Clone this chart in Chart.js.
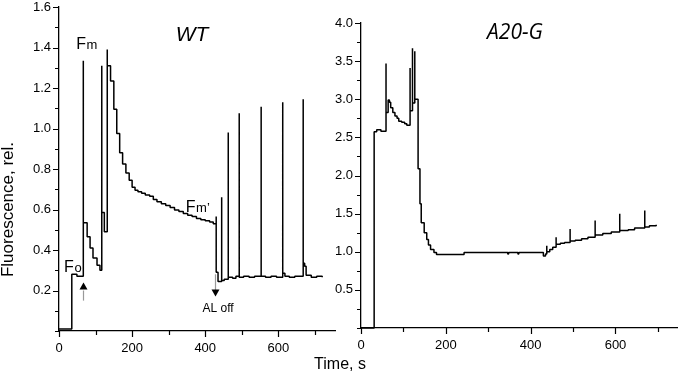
<!DOCTYPE html>
<html>
<head>
<meta charset="utf-8">
<script src="https://cdn.jsdelivr.net/npm/chart.js@4.4.1/dist/chart.umd.min.js"></script>
<style>
  body { margin: 0; background: #fff; width: 680px; height: 385px; overflow: hidden; position: relative; font-family: "Liberation Sans", Arial, sans-serif; }
  #wrapWT { position: absolute; left: 0; top: 0; width: 340px; height: 385px; }
  #wrapA20 { position: absolute; left: 325px; top: 0; width: 355px; height: 385px; }
  #xTitle { position: absolute; left: 0; top: 355px; width: 680px; text-align: center; font-size: 16px; color: #000; }
</style>
</head>
<body>
<div id="wrapWT"><canvas id="chartWT" width="340" height="385"></canvas></div>
<div id="wrapA20"><canvas id="chartA20" width="355" height="385"></canvas></div>
<div id="xTitle">Time, s</div>
<script>
// ---- data (time in s, fluorescence rel.) ----
const timeWT = [0, 35, 49, 66.5, 66.5, 77, 85, 93, 104, 112, 117, 117, 124, 132, 132, 141, 150, 158, 166, 174, 183, 192, 200,
  208, 216, 226, 236, 248, 258, 268, 280, 292, 304, 316, 328, 340, 352, 364, 376, 388, 400, 412, 422,
  430, 430, 435, 445, 445, 452, 463, 463, 475, 484, 493, 493, 505, 520, 535, 553, 553, 565, 580, 595, 612, 612, 618, 630, 645,
  668, 668, 672, 676, 690, 705, 720];
const fluorWT = [0.01, 0.28, 0.27, 1.335, 0.535, 0.465, 0.41, 0.36, 0.325, 0.30, 1.31, 0.585, 0.49, 1.39, 1.31, 1.235, 1.095, 0.975, 0.88, 0.825, 0.78, 0.745, 0.71,
  0.695, 0.688, 0.68, 0.672, 0.665, 0.65, 0.638, 0.628, 0.62, 0.61, 0.598, 0.59, 0.58, 0.572, 0.565, 0.556, 0.55, 0.545, 0.538, 0.53,
  0.565, 0.29, 0.245, 0.66, 0.25, 0.255, 0.98, 0.265, 0.26, 0.27, 1.075, 0.265, 0.27, 0.265, 0.27, 1.107, 0.27, 0.265, 0.27, 0.265, 1.13, 0.285, 0.27, 0.265, 0.27,
  1.144, 0.335, 0.32, 0.275, 0.265, 0.27, 0.265];

const timeA20 = [0, 31, 37, 47, 59, 59, 64, 67, 70, 75, 80, 85, 89, 96, 103, 108, 115.7, 115.7, 121.4, 121.4, 126.8, 126.8, 134.6, 139,
  142, 149, 155, 159, 164, 172, 178, 243, 346, 348, 370, 372, 430, 435, 438, 438, 445, 452, 460, 460, 470, 480,
  493, 493, 505, 520, 535, 552, 552, 570, 590, 610, 610, 630, 645, 669, 669, 680, 696];
const fluorA20 = [0, 2.575, 2.6, 2.58, 3.47, 2.825, 2.99, 2.96, 2.89, 2.825, 2.78, 2.75, 2.71, 2.70, 2.68, 2.66, 3.41, 2.85, 3.67, 2.95, 3.63, 3.0, 2.09, 1.63,
  1.38, 1.25, 1.16, 1.09, 1.03, 0.99, 0.965, 0.99, 0.97, 0.99, 0.97, 0.99, 0.945, 0.97, 1.08, 1.0, 1.03, 1.06, 1.19, 1.1, 1.11, 1.12,
  1.30, 1.14, 1.15, 1.17, 1.19, 1.41, 1.22, 1.24, 1.26, 1.50, 1.28, 1.29, 1.31, 1.54, 1.325, 1.34, 1.355];

const toPoints = (ts, vs) => ts.map((t, i) => ({ x: t, y: vs[i] }));

// ---- tick marks (major longer than minor) ----
const tickMarks = {
  id: 'tickMarks',
  afterDraw(chart) {
    const ctx = chart.ctx, a = chart.chartArea, sx = chart.scales.x, sy = chart.scales.y;
    ctx.save();
    ctx.strokeStyle = '#000';
    ctx.lineWidth = 1.2;
    ctx.beginPath();
    sx.ticks.forEach(t => {
      const px = Math.round(sx.getPixelForValue(t.value)) + 0.5;
      ctx.moveTo(px, a.bottom);
      ctx.lineTo(px, a.bottom + (t.label !== '' ? 6 : 4));
    });
    sy.ticks.forEach(t => {
      const py = Math.round(sy.getPixelForValue(t.value)) + 0.5;
      ctx.moveTo(a.left, py);
      ctx.lineTo(a.left - (t.label !== '' ? 6 : 4), py);
    });
    ctx.stroke();
    ctx.restore();
  }
};

// ---- labels and arrows ----
function drawF(ctx, x, y, sub) {
  ctx.font = '16px "Liberation Sans", Arial, sans-serif';
  ctx.textAlign = 'left';
  ctx.textBaseline = 'alphabetic';
  ctx.fillText('F', x, y);
  const w = ctx.measureText('F').width;
  ctx.font = '13px "Liberation Sans", Arial, sans-serif';
  ctx.fillText(sub, x + w + 0.5, y);
}

function arrow(ctx, x, yStem0, yStem1, yBase, yTip) {
  ctx.strokeStyle = '#999';
  ctx.lineWidth = 1.2;
  ctx.beginPath();
  ctx.moveTo(x, yStem0);
  ctx.lineTo(x, yStem1);
  ctx.stroke();
  ctx.fillStyle = '#000';
  ctx.beginPath();
  ctx.moveTo(x - 4, yBase);
  ctx.lineTo(x + 4, yBase);
  ctx.lineTo(x, yTip);
  ctx.closePath();
  ctx.fill();
}

const annotWT = {
  id: 'annotWT',
  afterDraw(chart) {
    const ctx = chart.ctx, sx = chart.scales.x, sy = chart.scales.y;
    const X = v => sx.getPixelForValue(v), Y = v => sy.getPixelForValue(v);
    ctx.save();
    ctx.fillStyle = '#000';
    // y axis title, sits a bit low as in the source figure
    ctx.save();
    ctx.translate(13, Y(0.6));
    ctx.rotate(-Math.PI / 2);
    ctx.font = '17px "Liberation Sans", Arial, sans-serif';
    ctx.textAlign = 'center';
    ctx.textBaseline = 'alphabetic';
    ctx.fillText('Fluorescence, rel.', 0, 0);
    ctx.restore();

    ctx.font = 'italic 21px "Liberation Sans", Arial, sans-serif';
    ctx.textAlign = 'center';
    ctx.textBaseline = 'middle';
    ctx.fillText('WT', X(364), Y(1.46));
    drawF(ctx, X(47), Y(1.395), 'm');
    drawF(ctx, X(14), Y(0.29), 'o');
    drawF(ctx, X(347), Y(0.59), 'm\u2019');
    ctx.font = '12px "Liberation Sans", Arial, sans-serif';
    ctx.textAlign = 'center';
    ctx.textBaseline = 'middle';
    ctx.fillText('AL off', X(435), Y(0.11));
    // up arrow at the first flash, down arrow where actinic light goes off
    const xu = Math.round(X(66)) + 0.5;
    arrow(ctx, xu, Y(0.15), Y(0.2), Y(0.205), Y(0.24));
    const xd = Math.round(X(427)) + 0.5;
    arrow(ctx, xd, Y(0.28), Y(0.2), Y(0.205), Y(0.17));
    ctx.restore();
  }
};

const annotA20 = {
  id: 'annotA20',
  afterDraw(chart) {
    const ctx = chart.ctx, sx = chart.scales.x, sy = chart.scales.y;
    ctx.save();
    ctx.fillStyle = '#000';
    ctx.font = 'italic 21px "Open Sans", sans-serif';
    ctx.textAlign = 'center';
    ctx.textBaseline = 'middle';
    ctx.fillText('A20-G', sx.getPixelForValue(363), sy.getPixelForValue(3.87));
    ctx.restore();
  }
};

const tickFont = { family: '"Liberation Sans", Arial, sans-serif', size: 13 };

function makeChart(id, points, opt) {
  return new Chart(document.getElementById(id), {
    type: 'line',
    data: {
      datasets: [{
        data: points,
        stepped: true,
        borderColor: '#000',
        borderWidth: 1.5,
        borderJoinStyle: 'bevel',
        pointRadius: 0,
        fill: false,
        clip: false
      }]
    },
    options: {
      responsive: false,
      animation: false,
      events: [],
      layout: { padding: opt.padding },
      plugins: { legend: { display: false }, tooltip: { enabled: false } },
      scales: {
        x: {
          type: 'linear',
          min: 0, max: opt.xMax,
          border: { display: true, color: '#000', width: 1.3 },
          grid: { display: true, drawOnChartArea: false, drawTicks: false },
          ticks: {
            stepSize: 100, includeBounds: false, autoSkip: false, maxRotation: 0,
            padding: 10, color: '#000', font: tickFont,
            callback: v => (v % 200 === 0 ? String(v) : '')
          },
          afterFit: s => { s.height = opt.xHeight; s.paddingLeft = 0; s.paddingRight = 0; }
        },
        y: {
          type: 'linear',
          min: 0, max: opt.yMax,
          border: { display: true, color: '#000', width: 1.3 },
          grid: { display: true, drawOnChartArea: false, drawTicks: false },
          ticks: {
            stepSize: opt.yMinor, autoSkip: false, includeBounds: false,
            padding: 8, color: '#000', font: tickFont,
            callback: opt.yLabel
          },
          afterFit: s => { s.width = opt.yWidth; s.paddingTop = 0; s.paddingBottom = 0; }
        }
      }
    },
    plugins: [tickMarks, opt.annot]
  });
}

makeChart('chartWT', toPoints(timeWT, fluorWT), {
  padding: { top: 7, right: 5, left: 0, bottom: 0 },
  xMax: 755, xHeight: 54,
  yMax: 1.6, yMinor: 0.1, yWidth: 59,
  yLabel: v => { const k = Math.round(v * 10); return (k > 0 && k % 2 === 0) ? (k / 10).toFixed(1) : ''; },
  annot: annotWT
});

makeChart('chartA20', toPoints(timeA20, fluorA20), {
  padding: { top: 23, right: 3, left: 0, bottom: 0 },
  xMax: 745, xHeight: 57,
  yMax: 4.0, yMinor: 0.25, yWidth: 36,
  yLabel: v => { const k = Math.round(v * 4); return (k > 0 && k % 2 === 0) ? (k / 4).toFixed(1) : ''; },
  annot: annotA20
});
</script>
</body>
</html>
